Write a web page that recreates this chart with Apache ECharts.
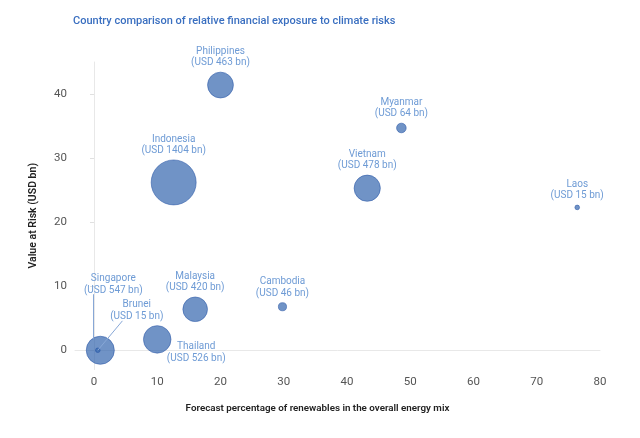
<!DOCTYPE html>
<html>
<head>
<meta charset="utf-8">
<script src="https://cdn.jsdelivr.net/npm/echarts@6/dist/echarts.min.js"></script>
<style>
  html, body { margin: 0; padding: 0; background: #fff; }
  #chart { width: 640px; height: 438px; }
</style>
</head>
<body>
<div id="chart"></div>
<script>
// values
const countries  = ['Philippines', 'Myanmar', 'Indonesia', 'Vietnam', 'Laos', 'Malaysia', 'Cambodia', 'Singapore', 'Brunei', 'Thailand']
const renewables = [20, 48.6, 12.6, 43.2, 76.4, 16, 29.8, 1, 0.6, 10]
const valueAtRisk = [41.4, 34.7, 26.2, 25.3, 22.3, 6.4, 6.8, 0, 0, 1.7]
const exposure   = [463, 64, 1404, 478, 15, 420, 46, 547, 15, 526]
const xTicks = [0, 10, 20, 30, 40, 50, 60, 70, 80]
const yTicks = [0, 10, 20, 30, 40]
// leader lines, in data units
const leaders = [
    [[-0.15, 8.75], [-0.15, 1.8]],
    [[4.5, 4.6], [0.6, 0]]
]

// labels that are not simply above their bubble
const labelOffsets = {
    Singapore: [13, -66],
    Brunei: [39, -40],
    Thailand: [39, 13]
}

const labelColor = '#6e9bd5'
const font = 'Roboto'

const data = countries.map((name, i) => {
    const item = {
        name,
        value: [renewables[i], valueAtRisk[i], exposure[i]]
    }
    if (labelOffsets[name]) {
        item.label = { position: 'inside', offset: labelOffsets[name] }
    }
    return item
})

const chart = echarts.init(document.getElementById('chart'))
chart.setOption({
    animation: false,
    title: {
        text: 'Country comparison of relative financial exposure to climate risks',
        left: 73,
        top: 16,
        padding: 0,
        textStyle: { color: '#3a6fc0', fontSize: 11, fontWeight: 500, fontFamily: font }
    },
    grid: { left: 75, right: 40, top: 62, bottom: 68.5 },
    xAxis: {
        type: 'value',
        min: -3,
        max: 80,
        name: 'Forecast percentage of renewables in the overall energy mix',
        nameLocation: 'middle',
        nameGap: 34,
        nameTextStyle: { color: '#222', fontSize: 9.8, fontWeight: 600, fontFamily: font, padding: [0, 40, 0, 0] },
        axisLine: { lineStyle: { color: '#e8e8e8' } },
        axisTick: { show: false },
        splitLine: { show: false },
        axisLabel: { customValues: xTicks, color: '#555', fontSize: 11.5, fontFamily: font, margin: 7 }
    },
    yAxis: {
        type: 'value',
        min: -3,
        max: 45,
        name: 'Value at Risk (USD bn)',
        nameLocation: 'middle',
        nameRotate: 90,
        nameGap: 36,
        nameTextStyle: { color: '#222', fontSize: 10.5, fontWeight: 600, fontFamily: font },
        axisLine: { show: true, lineStyle: { color: '#e8e8e8' } },
        axisTick: { show: true, customValues: yTicks, length: 4, lineStyle: { color: '#e0e0e0' } },
        splitLine: { show: false },
        axisLabel: { customValues: yTicks, color: '#555', fontSize: 11.5, fontFamily: font, margin: 8 }
    },
    series: [{
        type: 'scatter',
        data,
        symbolSize: v => 1.2 * Math.sqrt(v[2]),
        itemStyle: {
            color: 'rgba(51, 101, 174, 0.7)',
            borderColor: 'rgba(40, 85, 165, 0.55)',
            borderWidth: 1,
            opacity: 1
        },
        label: {
            show: true,
            position: 'top',
            distance: 3,
            color: labelColor,
            fontSize: 10,
            lineHeight: 11.5,
            fontFamily: font,
            align: 'center',
            formatter: p => p.name + '\n(USD ' + p.value[2] + ' bn)'
        },
        emphasis: { disabled: true },
        markLine: {
            silent: true,
            symbol: ['none', 'none'],
            label: { show: false },
            lineStyle: { color: '#87a7d6', width: 1, type: 'solid' },
            data: leaders.map(l => [{ coord: l[0] }, { coord: l[1] }])
        }
    }]
})
</script>
</body>
</html>
